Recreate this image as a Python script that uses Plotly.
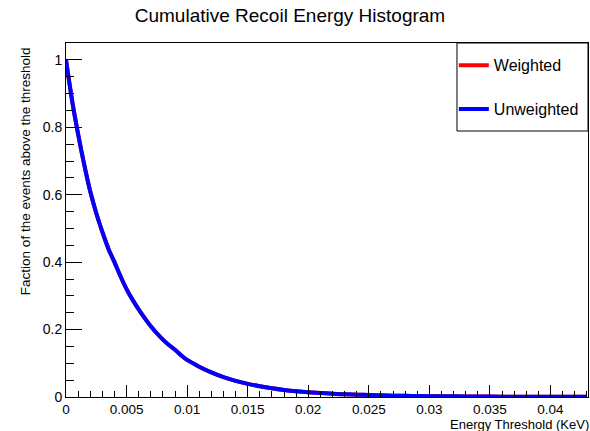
import plotly.graph_objects as go

# Energy threshold (KeV) and fraction of events above threshold
energy = [0.0, 0.0005, 0.001, 0.0015, 0.002, 0.0025, 0.003, 0.0035, 0.004, 0.0045,
          0.005, 0.0055, 0.006, 0.0065, 0.007, 0.0075, 0.008, 0.0085, 0.009, 0.0095,
          0.010, 0.011, 0.012, 0.013, 0.014, 0.015, 0.016, 0.017, 0.018, 0.019,
          0.020, 0.021, 0.022, 0.023, 0.024, 0.025, 0.026, 0.027, 0.028, 0.029, 0.030,
          0.032, 0.034, 0.036, 0.038, 0.040, 0.043]
weighted = [1.0, 0.88, 0.78, 0.69, 0.61, 0.545, 0.49, 0.44, 0.40, 0.358,
            0.32, 0.288, 0.26, 0.234, 0.21, 0.189, 0.17, 0.154, 0.14, 0.124,
            0.11, 0.09, 0.073, 0.059, 0.048, 0.039, 0.032, 0.026, 0.021, 0.017,
            0.014, 0.012, 0.010, 0.008, 0.007, 0.006, 0.005, 0.004, 0.0035, 0.003, 0.0025,
            0.002, 0.0015, 0.001, 0.0008, 0.0006, 0.0004]
unweighted = [1.0, 0.88, 0.78, 0.69, 0.61, 0.545, 0.49, 0.44, 0.40, 0.358,
              0.32, 0.288, 0.26, 0.234, 0.21, 0.189, 0.17, 0.154, 0.14, 0.124,
              0.11, 0.09, 0.073, 0.059, 0.048, 0.039, 0.032, 0.026, 0.021, 0.017,
              0.014, 0.012, 0.010, 0.008, 0.007, 0.006, 0.005, 0.004, 0.0035, 0.003, 0.0025,
              0.002, 0.0015, 0.001, 0.0008, 0.0006, 0.0004]

FONT = "Liberation Sans, Arial, sans-serif"

fig = go.Figure()
fig.add_trace(go.Scatter(x=energy, y=weighted, mode="lines", name="Weighted",
                         line=dict(color="#ff0000", width=4, shape="spline", smoothing=1),
                         legendgroup="a"))
fig.add_trace(go.Scatter(x=energy, y=unweighted, mode="lines", name="Unweighted",
                         line=dict(color="#0000ff", width=4, shape="spline", smoothing=1),
                         legendgroup="b"))

axis_common = dict(showgrid=False, zeroline=False, showline=True, linecolor="black",
                   linewidth=1, mirror=True, ticks="inside", tickcolor="black")

fig.update_xaxes(range=[0, 0.0431], dtick=0.005, tick0=0, ticklen=12,
                 tickfont=dict(family=FONT, size=13.5, color="black"),
                 minor=dict(dtick=0.001, ticks="inside", ticklen=6, tickcolor="black"),
                 **axis_common)
fig.update_yaxes(range=[0, 1.05], dtick=0.2, tick0=0, ticklen=16,
                 tickfont=dict(family=FONT, size=14, color="black"),
                 minor=dict(dtick=0.05, ticks="inside", ticklen=8, tickcolor="black"),
                 **axis_common)

fig.update_layout(
    width=590, height=431,
    margin=dict(l=66, r=2, t=43, b=34),
    paper_bgcolor="white", plot_bgcolor="white",
    font=dict(family=FONT, color="black"),
    title=dict(text="Cumulative Recoil Energy Histogram", x=0.4915, xanchor="center",
               y=0.965, yanchor="middle", font=dict(family=FONT, size=19, color="black")),
    showlegend=True,
    legend=dict(x=0.743, xanchor="left", y=0.985, yanchor="top", bgcolor="rgba(0,0,0,0)",
                font=dict(family=FONT, size=16, color="black"), tracegroupgap=20,
                traceorder="grouped", itemwidth=30),
    shapes=[dict(type="rect", xref="paper", yref="paper", x0=0.749, x1=1, y0=0.7514, y1=1,
                 line=dict(color="black", width=1), fillcolor="rgba(0,0,0,0)")],
    annotations=[
        dict(text="Energy Threshold (KeV)", xref="paper", yref="paper", x=1.006, y=-0.078,
             xanchor="right", yanchor="middle", showarrow=False,
             font=dict(family=FONT, size=13, color="black")),
        dict(text="Faction of the events above the threshold", xref="paper", yref="paper",
             x=-0.0785, y=0.994, xanchor="center", yanchor="top", textangle=-90,
             showarrow=False, font=dict(family=FONT, size=13.5, color="black")),
    ],
)

fig.write_html("out.html")
